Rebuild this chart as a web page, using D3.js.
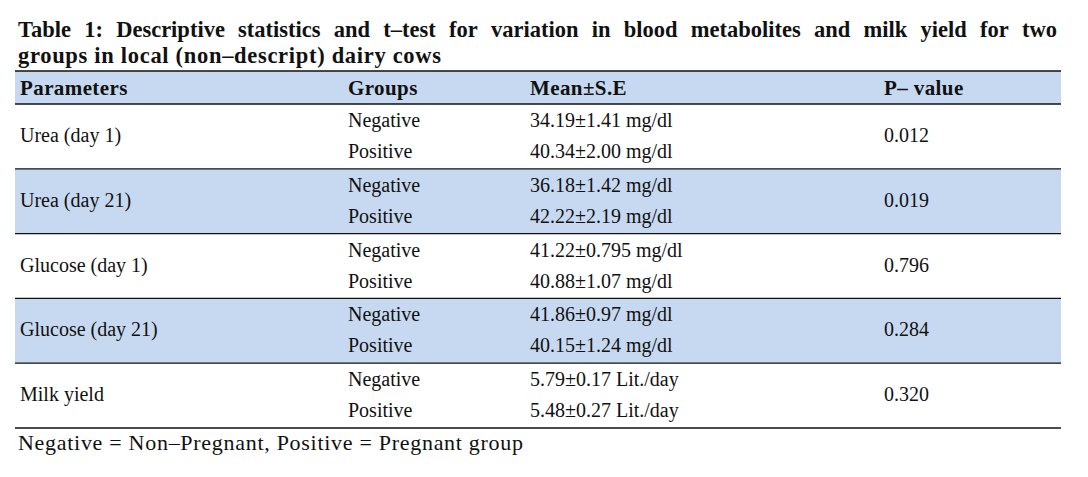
<!DOCTYPE html>
<meta charset="utf-8">
<script src="https://d3js.org/d3.v7.min.js"></script>
<style>
  body { margin: 0; background: #fff; }
  text { font-family: "Liberation Serif", "DejaVu Serif", serif; fill: #111; }
</style>
<div id="my_table"></div>
<script>

// table content
var titleLines = ["Table 1: Descriptive statistics and t\u2013test for variation in blood metabolites and milk yield for two",
                  "groups in local (non\u2013descript) dairy cows"];
var headers = ["Parameters", "Groups", "Mean\u00b1S.E", "P\u2013 value"];
var parameters = ["Urea (day 1)", "Urea (day 21)", "Glucose (day 1)", "Glucose (day 21)", "Milk yield"];
var groups = ["Negative", "Positive"];
var negativeValues = ["34.19\u00b11.41 mg/dl", "36.18\u00b11.42 mg/dl", "41.22\u00b10.795 mg/dl", "41.86\u00b10.97 mg/dl", "5.79\u00b10.17 Lit./day"];
var positiveValues = ["40.34\u00b12.00 mg/dl", "42.22\u00b12.19 mg/dl", "40.88\u00b11.07 mg/dl", "40.15\u00b11.24 mg/dl", "5.48\u00b10.27 Lit./day"];
var pValues = ["0.012", "0.019", "0.796", "0.284", "0.320"];
var footnote = "Negative = Non\u2013Pregnant, Positive = Pregnant group";

var width = 1088, height = 477;
var left = 15, right = 1061;
var headTop = 71, headBottom = 104, tableBottom = 428;
var blue = "#c6d9f0";

var svg = d3.select("#my_table")
  .append("svg")
    .attr("width", width)
    .attr("height", height);

// column positions
var colX = [20, 348, 530, 884];

// rows
var y = d3.scaleBand()
  .domain(parameters)
  .range([headBottom, tableBottom]);

// header band
svg.append("rect")
  .attr("x", left).attr("y", headTop)
  .attr("width", right - left).attr("height", headBottom - headTop)
  .attr("fill", blue);

// shaded body rows
svg.selectAll(".band")
  .data(parameters)
  .enter()
  .append("rect")
    .attr("x", left)
    .attr("y", function(d) { return y(d); })
    .attr("width", right - left)
    .attr("height", y.bandwidth())
    .attr("fill", function(d, i) { return i % 2 ? blue : "none"; });

// rules
var rules = [headTop, headBottom].concat(parameters.map(function(d) { return y(d) + y.bandwidth(); }));
svg.selectAll(".rule")
  .data(rules)
  .enter()
  .append("line")
    .attr("x1", left).attr("x2", right)
    .attr("y1", function(d) { return d; })
    .attr("y2", function(d) { return d; })
    .attr("stroke", "#111")
    .attr("stroke-width", 1.3);

// header text
svg.selectAll(".head")
  .data(headers)
  .enter()
  .append("text")
    .attr("x", function(d, i) { return colX[i]; })
    .attr("y", 95)
    .style("font-size", "21px")
    .style("font-weight", "bold")
    .style("letter-spacing", "0.4px")
    .text(function(d) { return d; });

// body
var rows = svg.selectAll(".row")
  .data(parameters)
  .enter()
  .append("g")
    .attr("transform", function(d) { return "translate(0," + y(d) + ")"; });

rows.append("text")
  .attr("x", colX[0]).attr("y", 38)
  .style("font-size", "20px")
  .text(function(d) { return d; });

groups.forEach(function(g, k) {
  rows.append("text")
    .attr("x", colX[1]).attr("y", k ? 54 : 23)
    .style("font-size", "20px")
    .text(g);
  rows.append("text")
    .attr("x", colX[2]).attr("y", k ? 54 : 23)
    .style("font-size", "20px")
    .text(function(d, i) { return k ? positiveValues[i] : negativeValues[i]; });
});

rows.append("text")
  .attr("x", colX[3]).attr("y", 38)
  .style("font-size", "20px")
  .text(function(d, i) { return pValues[i]; });

// title, first line justified between the table edges
function justify(line, yPos, x0, x1) {
  var words = line.split(" ");
  var t = svg.append("text").attr("y", yPos)
    .style("font-size", "22.5px").style("font-weight", "bold");
  var spans = t.selectAll("tspan").data(words).enter().append("tspan").text(function(d) { return d; });
  var widths = [];
  spans.each(function() { widths.push(this.getComputedTextLength()); });
  var gap = (x1 - x0 - d3.sum(widths)) / (words.length - 1);
  var x = x0;
  spans.attr("x", function(d, i) { var p = x; x += widths[i] + gap; return p; });
}
justify(titleLines[0], 37, 18, 1057);

svg.append("text")
  .attr("x", 18).attr("y", 63)
  .attr("textLength", 423)
  .attr("lengthAdjust", "spacing")
  .style("font-size", "22.5px")
  .style("font-weight", "bold")
  .text(titleLines[1]);

// footnote
svg.append("text")
  .attr("x", 18).attr("y", 450)
  .attr("textLength", 505)
  .attr("lengthAdjust", "spacing")
  .style("font-size", "22px")
  .text(footnote);

</script>
